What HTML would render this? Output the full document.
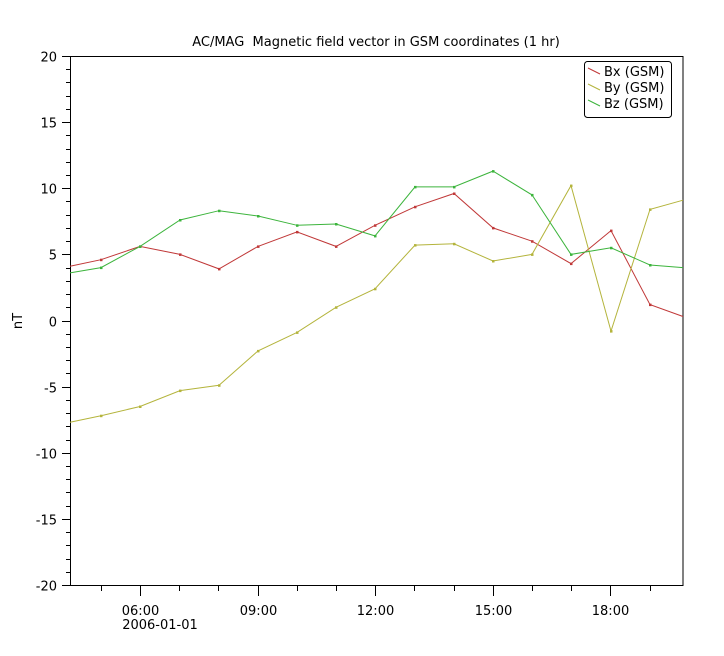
<!DOCTYPE html>
<html><head><meta charset="utf-8"><style>
body{margin:0;background:#fff}
svg{display:block;font-family:"DejaVu Sans","Liberation Sans",sans-serif}
</style></head><body>
<svg id="s" width="724" height="656" xmlns="http://www.w3.org/2000/svg">
<rect width="724" height="656" fill="#fff"/>
<text x="376" y="46" font-size="13" text-anchor="middle" style="white-space:pre">AC/MAG  Magnetic field vector in GSM coordinates (1 hr)</text>
<rect x="70.5" y="56.5" width="612.5" height="529" fill="none" stroke="#000"/>
<g id="ax" stroke="#000"></g>
<g id="lab" font-size="13" fill="#000"></g>
<text x="22" y="321" font-size="13" text-anchor="middle" transform="rotate(-90 22 321)">nT</text>
<g id="ser"></g>
<rect x="584.5" y="61.5" width="87" height="56" rx="3" fill="#fff" stroke="#000"/>
<g font-size="13">
<line x1="588" y1="68" x2="600" y2="74" stroke="#c03838"/><text x="604" y="76">Bx (GSM)</text>
<line x1="588" y1="84" x2="600" y2="90" stroke="#b4b43c"/><text x="604" y="92">By (GSM)</text>
<line x1="588" y1="100" x2="600" y2="106" stroke="#3cb43c"/><text x="604" y="108">Bz (GSM)</text>
</g>
</svg>
<script>
const Y=v=>320.5-v*13.225;
let ax='',lab='';
for(let v=-20;v<=20;v++){const y=Math.round(Y(v))+.5;const big=v%5==0;ax+=`<line x1="${big?62:66}" x2="70" y1="${y}" y2="${y}"/>`;
if(big)lab+=`<text x="57" y="${y+5}" text-anchor="end">${v}</text>`;}
const X=h=>140+(h-6)*39.2;
for(let h=5;h<=19;h++){const x=Math.round(X(h))+.5;const big=h%3==0;ax+=`<line x1="${x}" x2="${x}" y1="586" y2="${big?596:591}"/>`;
if(big)lab+=`<text x="${x}" y="615" text-anchor="middle">${String(h).padStart(2,'0')}:00</text>`;}
lab+=`<text x="160" y="629" text-anchor="middle">2006-01-01</text>`;
document.getElementById('ax').innerHTML=ax;document.getElementById('lab').innerHTML=lab;
const xs=[70,101,140,180,219,258,297,336,375,415,454,493,532,571,611,650,683];
const d={"#c03838":[4.1,4.6,5.6,5.0,3.9,5.6,6.7,5.6,7.2,8.6,9.6,7.0,6.0,4.3,6.8,1.2,0.3],
"#b4b43c":[-7.7,-7.2,-6.5,-5.3,-4.9,-2.3,-0.9,1.0,2.4,5.7,5.8,4.5,5.0,10.2,-0.8,8.4,9.1],
"#3cb43c":[3.6,4.0,5.6,7.6,8.3,7.9,7.2,7.3,6.4,10.1,10.1,11.3,9.5,5.0,5.5,4.2,4.0]};
let s='';
for(const c in d){const p=d[c].map((v,i)=>xs[i]+','+Y(v).toFixed(1));
s+=`<polyline points="${p.join(' ')}" fill="none" stroke="${c}" stroke-width="1"/>`;
p.slice(1,-1).forEach(q=>{const[a,b]=q.split(',');s+=`<rect x="${a-1}" y="${b-1}" width="2.5" height="2.5" fill="${c}"/>`;});}
document.getElementById('ser').innerHTML=s;
</script>
</body></html>
